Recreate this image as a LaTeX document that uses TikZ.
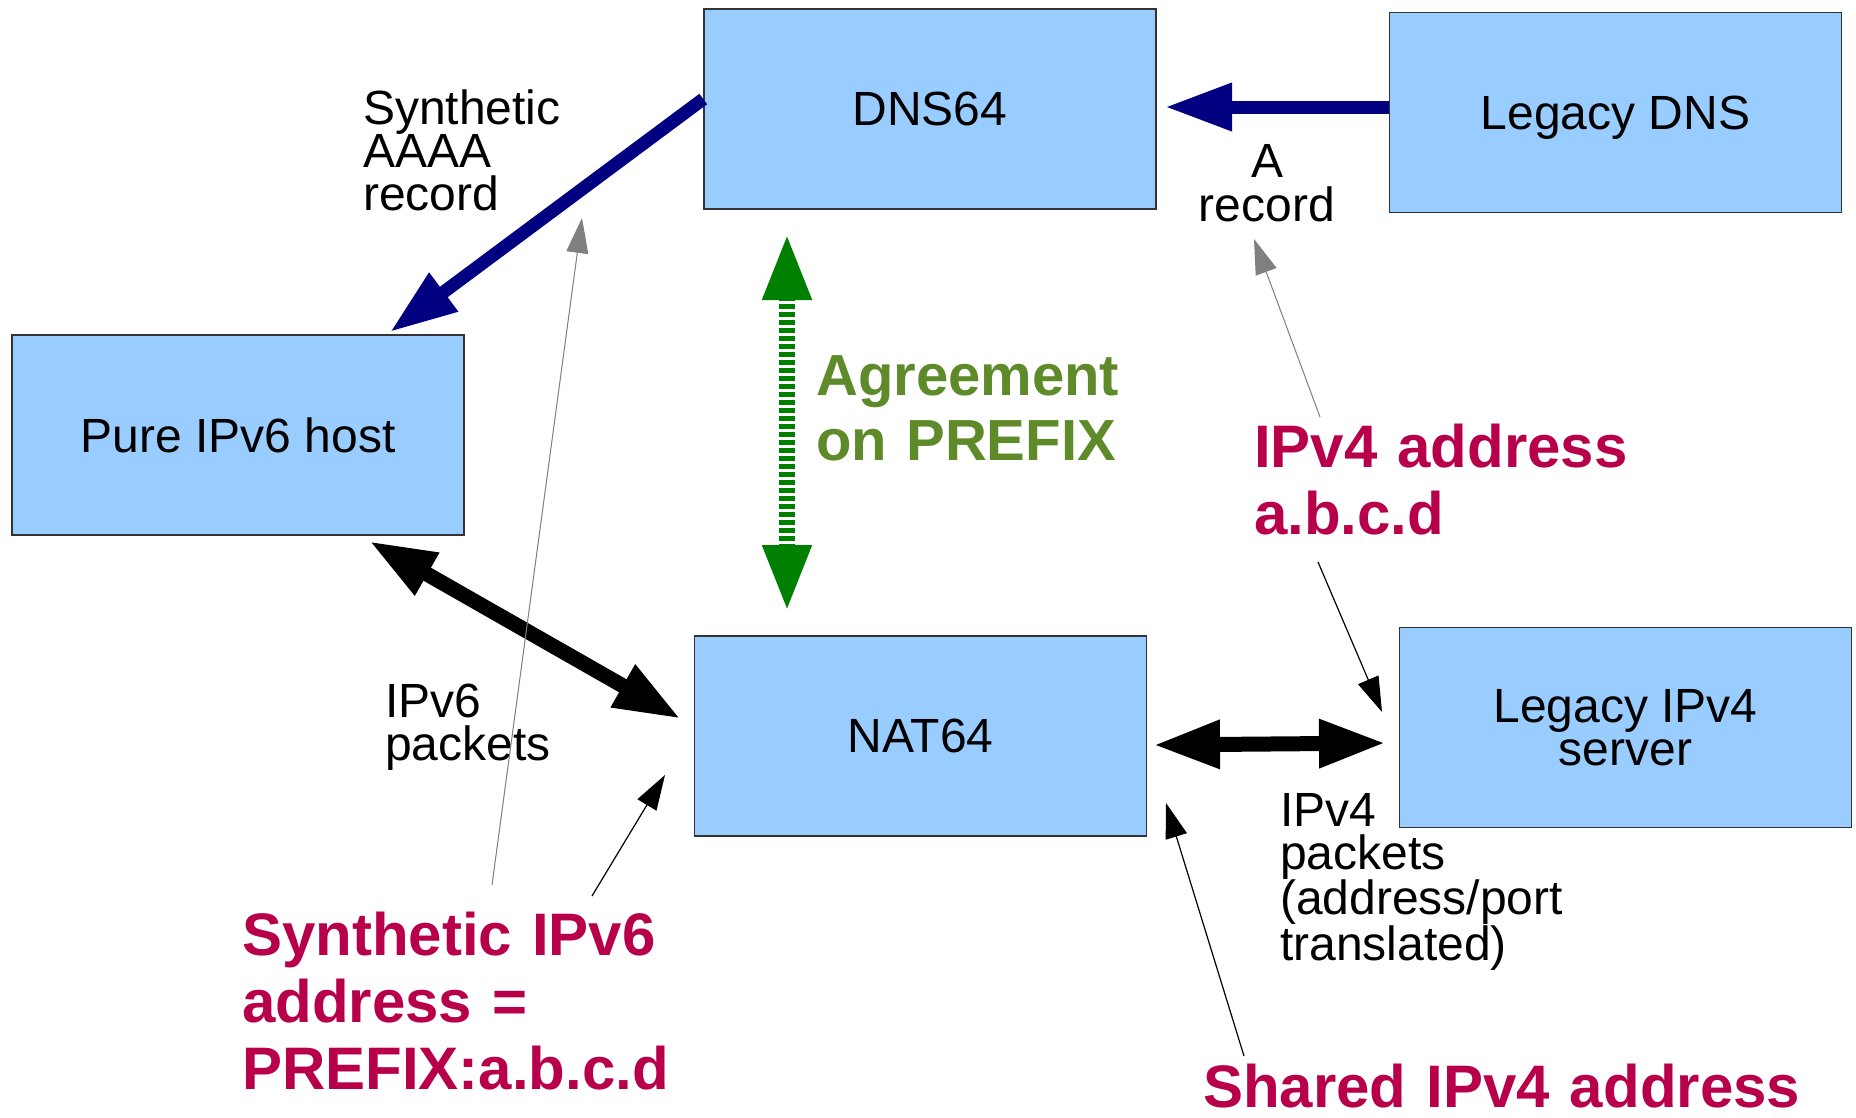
\documentclass[tikz,border=0pt]{standalone}
\usepackage{fontspec}
\setmainfont{Liberation Sans}
\usetikzlibrary{arrows.meta}
\definecolor{boxblue}{HTML}{99CCFF}
\definecolor{navyarr}{HTML}{000080}
\definecolor{greenarr}{HTML}{008000}
\definecolor{greentxt}{HTML}{5E8A2A}
\definecolor{crim}{HTML}{B8004A}
\setlength{\lineskiplimit}{-100pt}
\begin{document}
\begin{tikzpicture}[x=1pt,y=-1pt,
  box/.style={draw=black!80, line width=1.5pt, fill=boxblue, minimum width=452pt,
    minimum height=200pt, inner sep=0pt, align=center,
    font=\fontsize{48}{43}\selectfont},
  lbl/.style={inner sep=0pt, anchor=base west, align=left, text width=#1,
    font=\fontsize{48}{43}\selectfont},
  lblc/.style={inner sep=0pt, anchor=base, align=center, text width=#1,
    font=\fontsize{48}{44}\selectfont},
  crimtxt/.style={inner sep=0pt, anchor=base west, align=left, text width=#1,
    text=crim, font=\fontsize{60}{67}\selectfont\bfseries},
  greentext/.style={inner sep=0pt, anchor=base west, align=left, text width=#1,
    text=greentxt, font=\fontsize{58}{65}\selectfont\bfseries},
  bigtip/.tip={Triangle[length=67pt,width=45pt]},
  smalltip/.tip={Triangle[length=35pt,width=22pt]},
  navyarrow/.style={draw=navyarr, line width=13pt, -bigtip},
  blackdbl/.style={draw=black, line width=15pt, bigtip-bigtip},
  greendbl/.style={draw=greenarr, line width=16pt, dash pattern=on 5pt off 3pt, bigtip-bigtip},
  thinblack/.style={draw=black, line width=1.2pt, -smalltip},
  thingrey/.style={draw=black!50, fill=black!50, line width=1pt, -smalltip},
]
\useasboundingbox (0,0) rectangle (1856,1117);

% boxes
\node[box] (dns)  at (930,109)    {DNS64};
\node[box, text depth=0pt] (ldns) at (1615.5,112.5) {Legacy DNS};
\node[box] (host) at (238,435)    {Pure IPv6 host};
\node[box] (nat)  at (920.5,736)  {NAT64};
\node[box] (lsrv) at (1625.5,727.5) {Legacy IPv4\\server};

% black labels
\node[lbl=205pt] (aaaa) at (363,124) {Synthetic\\AAAA\\record};
\node[lblc=145pt] (arec) at (1267,177) {A\\record};
\node[lbl=175pt] (v6p) at (385,717) {IPv6\\packets};
\node[lbl=295pt] (v4p) at (1280,826) {IPv4\\packets\\(address/port\\translated)};

% coloured labels
\node[greentext=310pt] (agree) at (816,395) {Agreement\\on PREFIX};
\node[crimtxt=385pt] (v4addr) at (1254,467) {IPv4 address\\a.b.c.d};
\node[crimtxt=435pt] (synth) at (242,955) {Synthetic IPv6\\address =\\PREFIX:a.b.c.d};
\node[crimtxt=605pt] (shared) at (1203,1107) {Shared IPv4 address};

% end points
\coordinate (navytip) at (390,332);
\coordinate (atip) at (1165,107);
\coordinate (gtop) at (787,233);
\coordinate (gbot) at (787,612);
\coordinate (hostend) at (369,541);
\coordinate (natend) at (681,719);
\coordinate (natr) at (1153,745);
\coordinate (srvl) at (1386,743);
\coordinate (gs1) at (492,885);
\coordinate (ge1) at (582,218);
\coordinate (gs2) at (1320,417);
\coordinate (ge2) at (1254,239);
\coordinate (bs1) at (1318,562);
\coordinate (be1) at (1382,712);
\coordinate (bs2) at (592,896);
\coordinate (be2) at (665,775);
\coordinate (bs3) at (1244,1056);
\coordinate (be3) at (1166,803);

% thick arrows
\draw[navyarrow] ([yshift=10pt]dns.west) -- (navytip);
\draw[navyarrow] ([yshift=5.5pt]ldns.west) -- (atip);
\draw[greendbl] (gtop) -- (gbot);
\draw[blackdbl] (hostend) -- (natend);
\draw[blackdbl] (natr) -- (srvl);

% thin arrows
\draw[thingrey] (gs1) -- (ge1);
\draw[thingrey] (gs2) -- (ge2);
\draw[thinblack] (bs1) -- (be1);
\draw[thinblack] (bs2) -- (be2);
\draw[thinblack] (bs3) -- (be3);
\end{tikzpicture}
\end{document}
